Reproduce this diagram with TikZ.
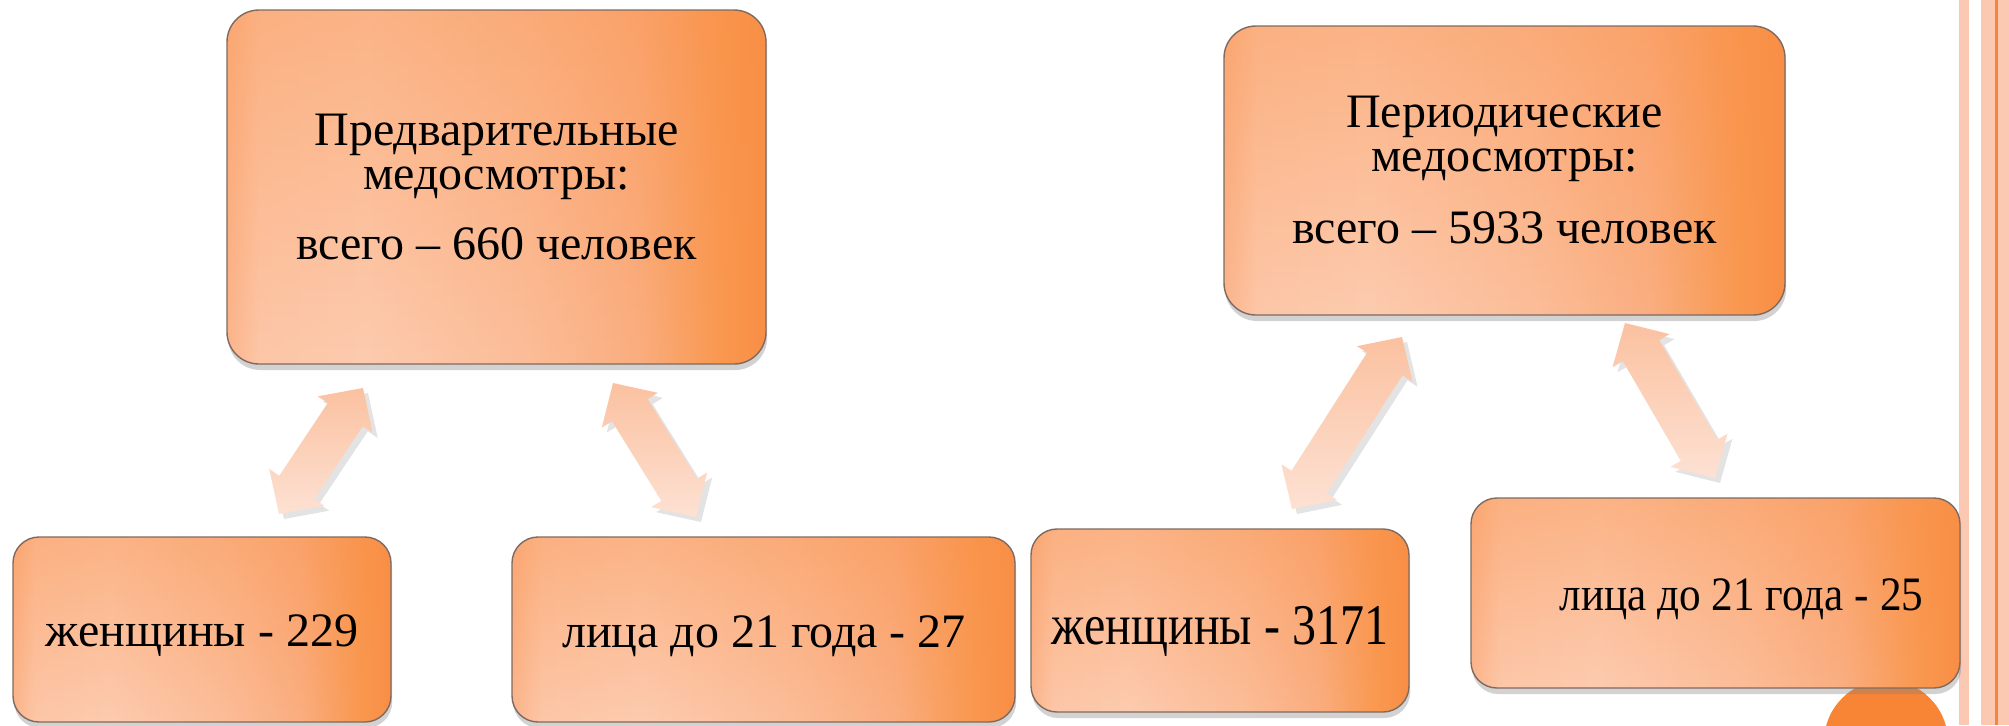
\documentclass[tikz,border=0pt]{standalone}
\usepackage{fontspec}
\usepackage{graphicx}
\setmainfont{Liberation Serif}
\usetikzlibrary{calc,shadows,fadings}
\definecolor{bf}{HTML}{FCB58C}
\definecolor{bl1}{HTML}{FDC7A8}
\definecolor{bl}{HTML}{FDCBAF}
\definecolor{bm}{HTML}{FCBD98}
\definecolor{bm2}{HTML}{FBAE80}
\definecolor{bo}{HTML}{F9984F}
\definecolor{bo2}{HTML}{F98F47}
\definecolor{boxedge}{HTML}{7F6A5F}
\definecolor{arrtop}{HTML}{FBC1A0}
\definecolor{arrbot}{HTML}{FDE1D3}
\definecolor{stripe}{HTML}{FBC8B2}
\definecolor{stripeline}{HTML}{F7863A}
\definecolor{circ}{HTML}{F88536}
\pgfdeclarehorizontalshading{boxgrad}{100bp}{color(0bp)=(bf); color(25bp)=(bf); color(28bp)=(bl1); color(38bp)=(bl); color(53bp)=(bm); color(63bp)=(bm2); color(71bp)=(bo); color(75bp)=(bo2); color(100bp)=(bo2)}
\tikzfading[name=fadetop, top color=transparent!60, bottom color=transparent!100]
\tikzset{
  box/.style={draw=boxedge, line width=0.7pt, rounded corners=16pt, shade, shading=boxgrad,
    drop shadow={shadow xshift=0.6pt, shadow yshift=-3pt, opacity=0.35},
    path picture={\fill[bo2, path fading=fadetop] (path picture bounding box.south west) rectangle (path picture bounding box.north east);},
    align=center, inner sep=0pt, font=\fontsize{24pt}{22pt}\selectfont},
  smallbox/.style={box, rounded corners=13pt},
  label text/.style={inner sep=0pt, font=\fontsize{24pt}{24pt}\selectfont},
  arrowfill/.style={top color=arrtop, bottom color=arrbot,
    drop shadow={shadow xshift=2.5pt, shadow yshift=-2.5pt, opacity=0.22}}
}
\newcommand{\blockarr}[2]{%
  \coordinate (#1h) at ($(#1)!16pt!(#2)$);
  \coordinate (#2h) at ($(#2)!16pt!(#1)$);
  \path[arrowfill] (#1) -- ($(#1h)!16.5pt!90:(#2)$) -- ($(#1h)!10.5pt!90:(#2)$)
    -- ($(#2h)!10.5pt!-90:(#1)$) -- ($(#2h)!16.5pt!-90:(#1)$) -- (#2)
    -- ($(#2h)!16.5pt!90:(#1)$) -- ($(#2h)!10.5pt!90:(#1)$)
    -- ($(#1h)!10.5pt!-90:(#2)$) -- ($(#1h)!16.5pt!-90:(#2)$) -- cycle;}
\begin{document}
\begin{tikzpicture}[x=0.5pt, y=-0.5pt]
\useasboundingbox (0,0) rectangle (2009,725);
\clip (0,0) rectangle (2009,725);
\fill[white] (0,0) rectangle (2009,725);
% right stripes
\fill[stripe] (1959,0) rectangle (1969,725);
\fill[stripe] (1981,0) rectangle (2009,725);
\fill[stripeline] (1995,0) rectangle (1998,725);
% circle
\fill[circ] (1886,742) circle[radius=62];
% boxes
\node[box, minimum width=269.5pt, minimum height=177pt] (pre) at (496.5,187)
  {Предварительные\\медосмотры:\\[13pt]всего – 660 человек};
\node[box, minimum width=280.5pt, minimum height=144.5pt] (per) at (1504.5,170.5)
  {Периодические\\медосмотры:\\[14pt]всего – 5933 человек};
\node[smallbox, minimum width=189pt, minimum height=92.5pt] (c1) at (202,629.5) {};
\node[smallbox, minimum width=251.5pt, minimum height=92.5pt] (c2) at (763.5,629.5) {};
\node[smallbox, minimum width=189pt, minimum height=91.5pt] (c3) at (1220,620.5) {};
\node[smallbox, minimum width=244.5pt, minimum height=95pt] (c4) at (1715.5,593) {};
\node[label text] (t1) at (202,636) {женщины - 229};
\node[label text] (t2) at (764,636) {лица до 21 года - 27};
\node[label text] (t3) at (1220,631.5) {\scalebox{1}[1.2]{женщины - 3171}};
\node[label text] (t4) at (1741.5,599) {\scalebox{0.9}[1]{лица до 21 года - 25}};
% arrows
\coordinate (a1s) at (279,514); \coordinate (a1e) at (363,388);
\coordinate (a2s) at (696,517); \coordinate (a2e) at (613,383);
\coordinate (a3s) at (1292,509); \coordinate (a3e) at (1402,337);
\coordinate (a4s) at (1715,478); \coordinate (a4e) at (1625,323);
\blockarr{a1s}{a1e}
\blockarr{a2s}{a2e}
\blockarr{a3s}{a3e}
\blockarr{a4s}{a4e}
\end{tikzpicture}
\end{document}
